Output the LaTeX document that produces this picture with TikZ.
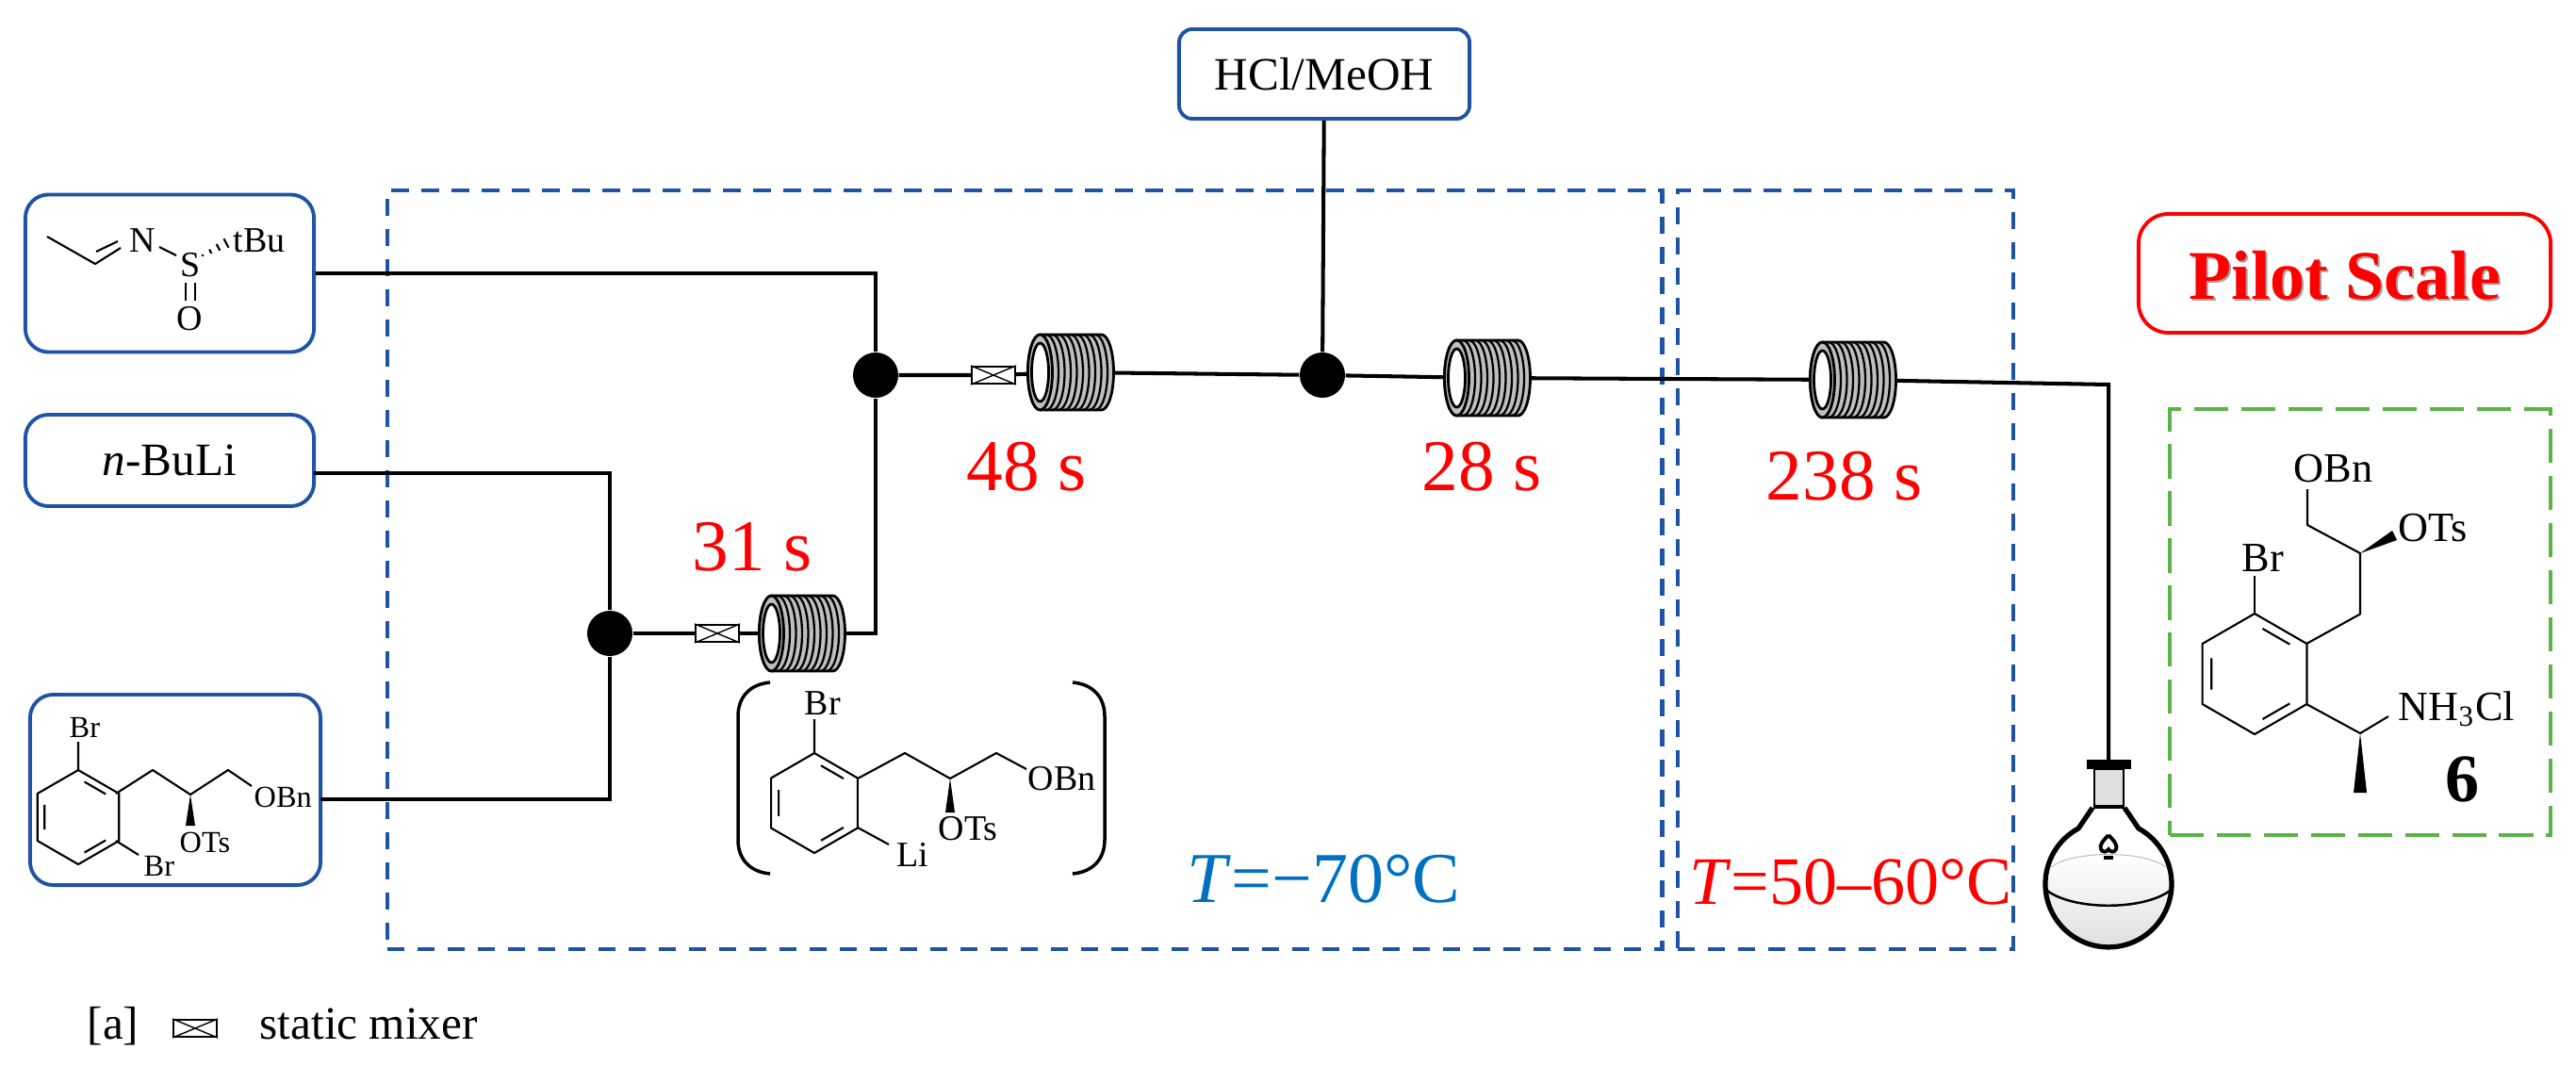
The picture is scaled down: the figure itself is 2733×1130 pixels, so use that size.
\documentclass[tikz,border=0pt]{standalone}
\usepackage{fontspec}
\setmainfont{Liberation Serif}
\usepackage{xcolor}
\definecolor{flowblue}{RGB}{31,84,165}
\definecolor{tempblue}{RGB}{0,112,192}
\definecolor{pilotred}{RGB}{255,0,0}
\definecolor{prodgreen}{RGB}{90,180,70}
\usetikzlibrary{calc}
\tikzset{
  coil/.pic={
    \path[draw=black,fill=gray!50,line width=0.8pt] (-32.5,-40) -- (32.5,-40)
      arc[start angle=-90,end angle=90,x radius=13,y radius=40]
      -- (-32.5,40) arc[start angle=90,end angle=270,x radius=13,y radius=40] -- cycle;
    \foreach \cx in {-26,-19.5,...,32}
      \draw[line width=0.65pt] (\cx,-40) arc[start angle=-90,end angle=90,x radius=13,y radius=40];
    \draw[line width=0.8pt,fill=gray!50] (-32.5,0) ellipse[x radius=13,y radius=40];
    \draw[line width=0.8pt,fill=white] (-32.5,0) ellipse[x radius=9,y radius=31];
  },
  arene/.pic={
    \draw[bond] (-90:1) -- (-30:1) -- (30:1) -- (90:1) -- (150:1) -- (210:1) -- cycle;
    \draw[bond] (-80:.762) -- (-40:.762) (40:.762) -- (80:.762) (160:.762) -- (200:.762);
  }
}
\begin{document}
\begin{tikzpicture}[
  x=0.01cm,y=-0.01cm,
  flow/.style={line width=1.15pt,black},
  bond/.style={line width=0.6pt,black,line join=round},
  wedge/.style={fill=black,draw=none},
  feed/.style={draw=flowblue,line width=1.1pt,rounded corners=7pt,fill=white,inner sep=0pt},
  zone/.style={draw=flowblue,line width=1.2pt,dash pattern=on 5.2pt off 3.9pt},
  joint/.style={circle,fill=black,minimum size=0.48cm,inner sep=0pt},
  coilbox/.style={minimum width=0.91cm,minimum height=0.8cm,inner sep=0pt},
  mixer/.style={draw=black,fill=white,line width=0.6pt,minimum width=0.46cm,minimum height=0.18cm,inner sep=0pt},
  lab/.style={anchor=base west,inner sep=0pt},
  labr/.style={anchor=base east,inner sep=0pt},
  big/.style={font=\fontsize{22}{24}\selectfont},
  mid/.style={font=\fontsize{14}{16}\selectfont},
  chemA/.style={font=\fontsize{9.2}{11}\selectfont},
  chemB/.style={font=\fontsize{10.8}{12}\selectfont},
  chemC/.style={font=\fontsize{12.6}{14}\selectfont}
]
  \useasboundingbox (0,0) rectangle (2733,1130);
  % Temperature zones
  \node[zone,minimum width=13.52cm,minimum height=8.05cm,inner sep=0pt] (coldzone) at (1087,604.5) {};
  \node[zone,minimum width=3.56cm,minimum height=8.05cm,inner sep=0pt] (hotzone) at (1958,604.5) {};
  % Feeds
  \node[feed,minimum width=3.06cm,minimum height=1.67cm] (imine) at (180,290) {};
  \node[feed,minimum width=3.06cm,minimum height=0.97cm,mid] (nbuli) at (180,488.5) {\textit{n}-BuLi};
  \node[feed,minimum width=3.08cm,minimum height=2.02cm] (dibromide) at (186,838) {};
  \node[feed,rounded corners=4pt,minimum width=3.08cm,minimum height=0.95cm,mid] (hcl) at (1405,78.5) {HCl/MeOH};
  \coordinate (nbuliout) at (333,502);
  \coordinate (dibromideout) at (340,848);
  % Reactor parts
  \node[joint] (j1) at (929,398) {};
  \node[joint] (j2) at (647,672) {};
  \node[joint] (j3) at (1403,398) {};
  \node[mixer] (mix1) at (1054,398) {};
  \node[mixer] (mix2) at (761,672) {};
  \node[coilbox] (coil1) at (1136,395) {};
  \node[coilbox] (coil2) at (851,672) {};
  \node[coilbox] (coil3) at (1578,401) {};
  \node[coilbox] (coil4) at (1966,403) {};
  \coordinate (elbow) at (2237,408);
  \coordinate (flaskin) at (2237,812);
  % Lines
  \draw[flow] (imine.east) -| (j1);
  \draw[flow] (nbuliout) -| (j2);
  \draw[flow] (dibromideout) -| (j2);
  \draw[flow] (coil2.center) -| (j1);
  \draw[flow] (j2) -- (mix2) -- (coil2);
  \draw[flow] (j1) -- (mix1) -- (coil1) -- (j3) -- (coil3) -- (coil4) -- (elbow) -- (flaskin);
  \draw[flow] (hcl) -- (j3);
  \foreach \c in {coil1,coil2,coil3,coil4}
    \pic at (\c) {coil};
  \node[mixer] (mix1b) at (mix1) {};
  \node[mixer] (mix2b) at (mix2) {};
  \node[mixer] (mixkey) at (207,1091) {};
  \foreach \m in {mix1b,mix2b,mixkey}
    \draw[line width=0.4pt] (\m.north west) -- (\m.south east) (\m.south west) -- (\m.north east);
  % Residence times
  \node[lab,big,text=pilotred] (t31) at (734,605) {31 s};
  \node[lab,big,text=pilotred] (t48) at (1025,520) {48 s};
  \node[lab,big,text=pilotred] (t28) at (1508,520) {28 s};
  \node[lab,big,text=pilotred] (t238) at (1873,530) {238 s};
  \node[labr,text=tempblue,font=\fontsize{21.6}{24}\selectfont] (tcold) at (1550,957) {\textit{T}=−70°C};
  \node[labr,text=pilotred,font=\fontsize{20.5}{24}\selectfont] (thot) at (2135,959) {\textit{T}=50–60°C};
  % Pilot label
  \node[draw=pilotred,line width=1.1pt,rounded corners=9pt,minimum width=4.37cm,minimum height=1.26cm] (pilot) at (2487.5,290) {};
  \node[lab,font=\fontsize{21}{23}\bfseries,text=gray!70] (pilotshadow) at (2324,319) {Pilot Scale};
  \node[lab,font=\fontsize{21}{23}\bfseries,text=pilotred] (pilotlab) at (2322,317) {Pilot Scale};
  % Key
  \node[lab,mid] (keya) at (92,1102) {[a]};
  \node[lab,mid] (keytxt) at (275,1102) {static mixer};
  % Imine
  \draw[bond] (50,251) -- (101,280) -- (128,263) (102,267) -- (125,256) (169,262) -- (187,271);
  \draw[bond] (197,300) -- (197,319) (207,300) -- (207,319);
  \foreach \t/\w in {0/1,.33/2.5,.66/4,1/5.5}
    \draw[bond] ($(215,271)!\t!(240,258)+(-.45*\w,-.85*\w)$) -- ($(215,271)!\t!(240,258)+(.45*\w,.85*\w)$);
  \node[lab,chemB] (iminen) at (137,267) {N};
  \node[lab,chemB] (imines) at (191,293) {S};
  \node[lab,chemB] (imineo) at (187,350) {O};
  \node[lab,chemB] (iminetbu) at (247,267) {tBu};
  % Dibromide
  \pic[scale=50] at (83,867) {arene};
  \draw[bond] (83,817) -- (83,787) (123,892) -- (147,907);
  \draw[bond] (123,842) -- (162,817) -- (202,843) -- (242,817) -- (267,834);
  \path[wedge] (202,843) -- (197,876) -- (207,876) -- cycle;
  \node[lab,chemA] (dibromoa) at (73,782) {Br};
  \node[lab,chemA] (dibromob) at (152,929) {Br};
  \node[lab,chemA] (dibromoots) at (190,904) {OTs};
  \node[lab,chemA] (dibromoobn) at (269,856) {OBn};
  % Lithiated intermediate
  \pic[scale=53] at (864,852) {arene};
  \draw[bond] (864,799) -- (864,763) (910,878) -- (943,896);
  \draw[bond] (910,826) -- (960,799) -- (1008,826) -- (1057,799) -- (1089,816);
  \path[wedge] (1008,826) -- (1003,862) -- (1013,862) -- cycle;
  \node[lab,chemB] (interbr) at (853,758) {Br};
  \node[lab,chemB] (interli) at (951,919) {Li};
  \node[lab,chemB] (interots) at (995,891) {OTs};
  \node[lab,chemB] (interobn) at (1090,838) {OBn};
  \draw[line width=1pt] (817,724) .. controls (795,726) and (783,740) .. (783,760) -- (783,891) .. controls (783,911) and (795,925) .. (817,927);
  \draw[line width=1pt] (1138,724) .. controls (1160,726) and (1172,740) .. (1172,760) -- (1172,891) .. controls (1172,911) and (1160,925) .. (1138,927);
  % Flask
  \begin{scope}
    \clip (2237,938) circle[radius=67];
    \shade[top color=white,bottom color=gray!25] (2170,908) rectangle (2304,1005);
  \end{scope}
  \draw[gray!50,line width=0.3pt] (2176,920) .. controls (2200,902) and (2274,902) .. (2298,920);
  \draw[line width=1.5pt,line join=round] (2220,857) -- (2205,879)
    arc[start angle=241.5,end angle=-61.5,radius=67] -- (2254,857);
  \draw[line width=0.7pt] (2172,945) .. controls (2200,966) and (2274,966) .. (2302,945);
  \draw[line width=0.5pt,fill=gray!25] (2222,816) rectangle (2253,857);
  \draw[line width=1.5pt,fill=black] (2217,809) rectangle (2258,813);
  \draw[line width=0.9pt] (2222,856) -- (2253,856);
  \draw[line width=1.1pt] (2237,886) .. controls (2231,892) and (2227,897) .. (2229,901)
    .. controls (2231,905) and (2235,904) .. (2237,901) .. controls (2239,904) and (2243,905) .. (2245,901)
    .. controls (2247,897) and (2243,892) .. (2237,886);
  \draw[line width=1.4pt] (2232,910) -- (2242,910);
  % Product
  \node[draw=prodgreen,line width=1pt,dash pattern=on 10.3pt off 3.9pt,minimum width=4.04cm,minimum height=4.52cm,inner sep=0pt] (prodbox) at (2504,660) {};
  \pic[scale=64] at (2392,715) {arene};
  \draw[bond] (2392,651) -- (2392,611);
  \draw[bond] (2447,683) -- (2504,651.5) -- (2504,587) -- (2448,557) -- (2448,519);
  \draw[bond] (2447,747) -- (2504,778) -- (2534,760);
  \path[wedge] (2504,587) -- (2538,563) -- (2543,573) -- cycle;
  \path[wedge] (2504,778) -- (2497,841) -- (2511,841) -- cycle;
  \node[lab,chemC] (prodobn) at (2433,511) {OBn};
  \node[lab,chemC] (prodots) at (2544,574) {OTs};
  \node[lab,chemC] (prodbr) at (2378,606) {Br};
  \node[lab,chemC] (prodnh) at (2544,764) {NH\textsubscript{3}Cl};
  \node[lab,font=\fontsize{20.5}{22}\bfseries] (prodnum) at (2594,850) {6};
\end{tikzpicture}
\end{document}
